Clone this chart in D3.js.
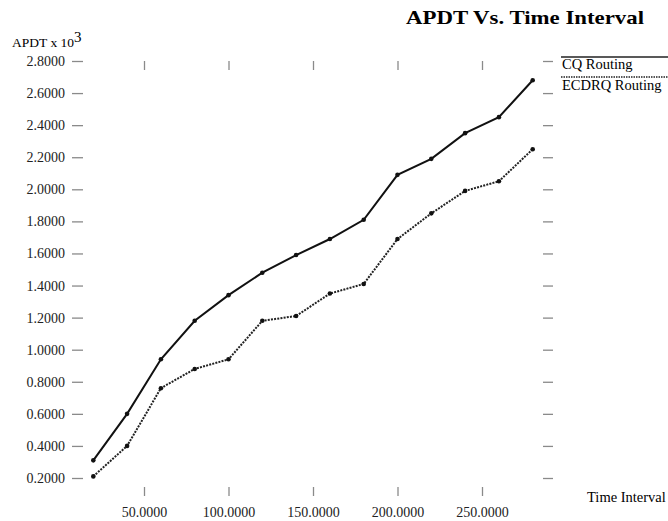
<!DOCTYPE html>
<html>
<head>
<meta charset="utf-8">
<script src="https://cdn.jsdelivr.net/npm/d3@7"></script>
<style>
  body { margin: 0; background: #fff; }
  svg text { font-family: "Liberation Serif", "DejaVu Serif", serif; }
</style>
</head>
<body>
<svg id="chart"></svg>
<script>
// data
var timeInterval = [20, 40, 60, 80, 100, 120, 140, 160, 180, 200, 220, 240, 260, 280];
var cqRouting    = [0.31, 0.60, 0.94, 1.18, 1.34, 1.48, 1.59, 1.69, 1.81, 2.09, 2.19, 2.35, 2.45, 2.68];
var ecdrqRouting = [0.21, 0.40, 0.76, 0.88, 0.94, 1.18, 1.21, 1.35, 1.41, 1.69, 1.85, 1.99, 2.05, 2.25];
var xTicks = [50, 100, 150, 200, 250];
var yTicks = [0.2, 0.4, 0.6, 0.8, 1.0, 1.2, 1.4, 1.6, 1.8, 2.0, 2.2, 2.4, 2.6, 2.8];
var seriesNames = ["CQ Routing", "ECDRQ Routing"];

var width = 668, height = 521;

// set the ranges
var x = d3.scaleLinear().domain([0, 50]).range([59.5, 144]);
var y = d3.scaleLinear().domain([0.2, 2.8]).range([478, 61]);

var svg = d3.select("#chart")
    .attr("width", width)
    .attr("height", height);

// title
svg.append("text")
    .attr("x", 406)
    .attr("y", 24)
    .attr("font-size", "19px")
    .attr("font-weight", "bold")
    .attr("textLength", 238)
    .attr("lengthAdjust", "spacingAndGlyphs")
    .text("APDT Vs. Time Interval");

// y axis label with superscript
var ylab = svg.append("text")
    .attr("x", 12)
    .attr("y", 47)
    .attr("font-size", "13.5px");
ylab.append("tspan").text("APDT x 10");
ylab.append("tspan").attr("dy", -5).attr("font-size", "15px").text("3");

function styleAxis(g) {
    g.select(".domain").remove();
    g.selectAll(".tick line").attr("stroke", "#8a8a8a").attr("stroke-width", 1.3);
    g.selectAll(".tick text").attr("fill", "#222").attr("font-size", "14px")
        .attr("font-family", "'Liberation Serif', serif");
}

// left axis
svg.append("g")
    .attr("transform", "translate(83,0)")
    .call(d3.axisLeft(y).tickValues(yTicks).tickSize(11).tickPadding(7).tickFormat(d3.format(".4f")))
    .call(styleAxis);

// right axis (marks only)
svg.append("g")
    .attr("transform", "translate(543,0)")
    .call(d3.axisRight(y).tickValues(yTicks).tickSize(10).tickFormat(""))
    .call(styleAxis);

// bottom axis
svg.append("g")
    .attr("transform", "translate(0,487)")
    .call(d3.axisBottom(x).tickValues(xTicks).tickSize(9).tickPadding(11).tickFormat(d3.format(".4f")))
    .call(styleAxis);

// top axis (marks only)
svg.append("g")
    .attr("transform", "translate(0,61)")
    .call(d3.axisBottom(x).tickValues(xTicks).tickSize(9).tickFormat(""))
    .call(styleAxis);

// x axis label
svg.append("text")
    .attr("x", 587)
    .attr("y", 502)
    .attr("font-size", "14.5px")
    .text("Time Interval");

// lines
var valueline = d3.line()
    .x(function(d, i) { return x(timeInterval[i]); })
    .y(function(d) { return y(d); });

svg.append("path")
    .datum(cqRouting)
    .attr("d", valueline)
    .attr("style", "stroke: #111; stroke-width: 2; fill: none");

svg.append("path")
    .datum(ecdrqRouting)
    .attr("d", valueline)
    .attr("style", "stroke: #222; stroke-width: 2; stroke-dasharray: 2,1.2; fill: none");

[cqRouting, ecdrqRouting].forEach(function(s) {
    svg.selectAll(null)
        .data(s)
        .enter().append("circle")
        .attr("r", 2.3)
        .attr("cx", function(d, i) { return x(timeInterval[i]); })
        .attr("cy", function(d) { return y(d); })
        .attr("fill", "#111");
});

// legend
svg.append("line")
    .attr("x1", 561).attr("x2", 668).attr("y1", 57).attr("y2", 57)
    .attr("style", "stroke: #222; stroke-width: 1.6");
svg.append("text")
    .attr("x", 562).attr("y", 69)
    .attr("font-size", "14.5px")
    .text(seriesNames[0]);
svg.append("line")
    .attr("x1", 561).attr("x2", 668).attr("y1", 77).attr("y2", 77)
    .attr("style", "stroke: #222; stroke-width: 1.6; stroke-dasharray: 1.5,1");
svg.append("text")
    .attr("x", 562).attr("y", 90)
    .attr("font-size", "14.5px")
    .text(seriesNames[1]);
</script>
</body>
</html>
